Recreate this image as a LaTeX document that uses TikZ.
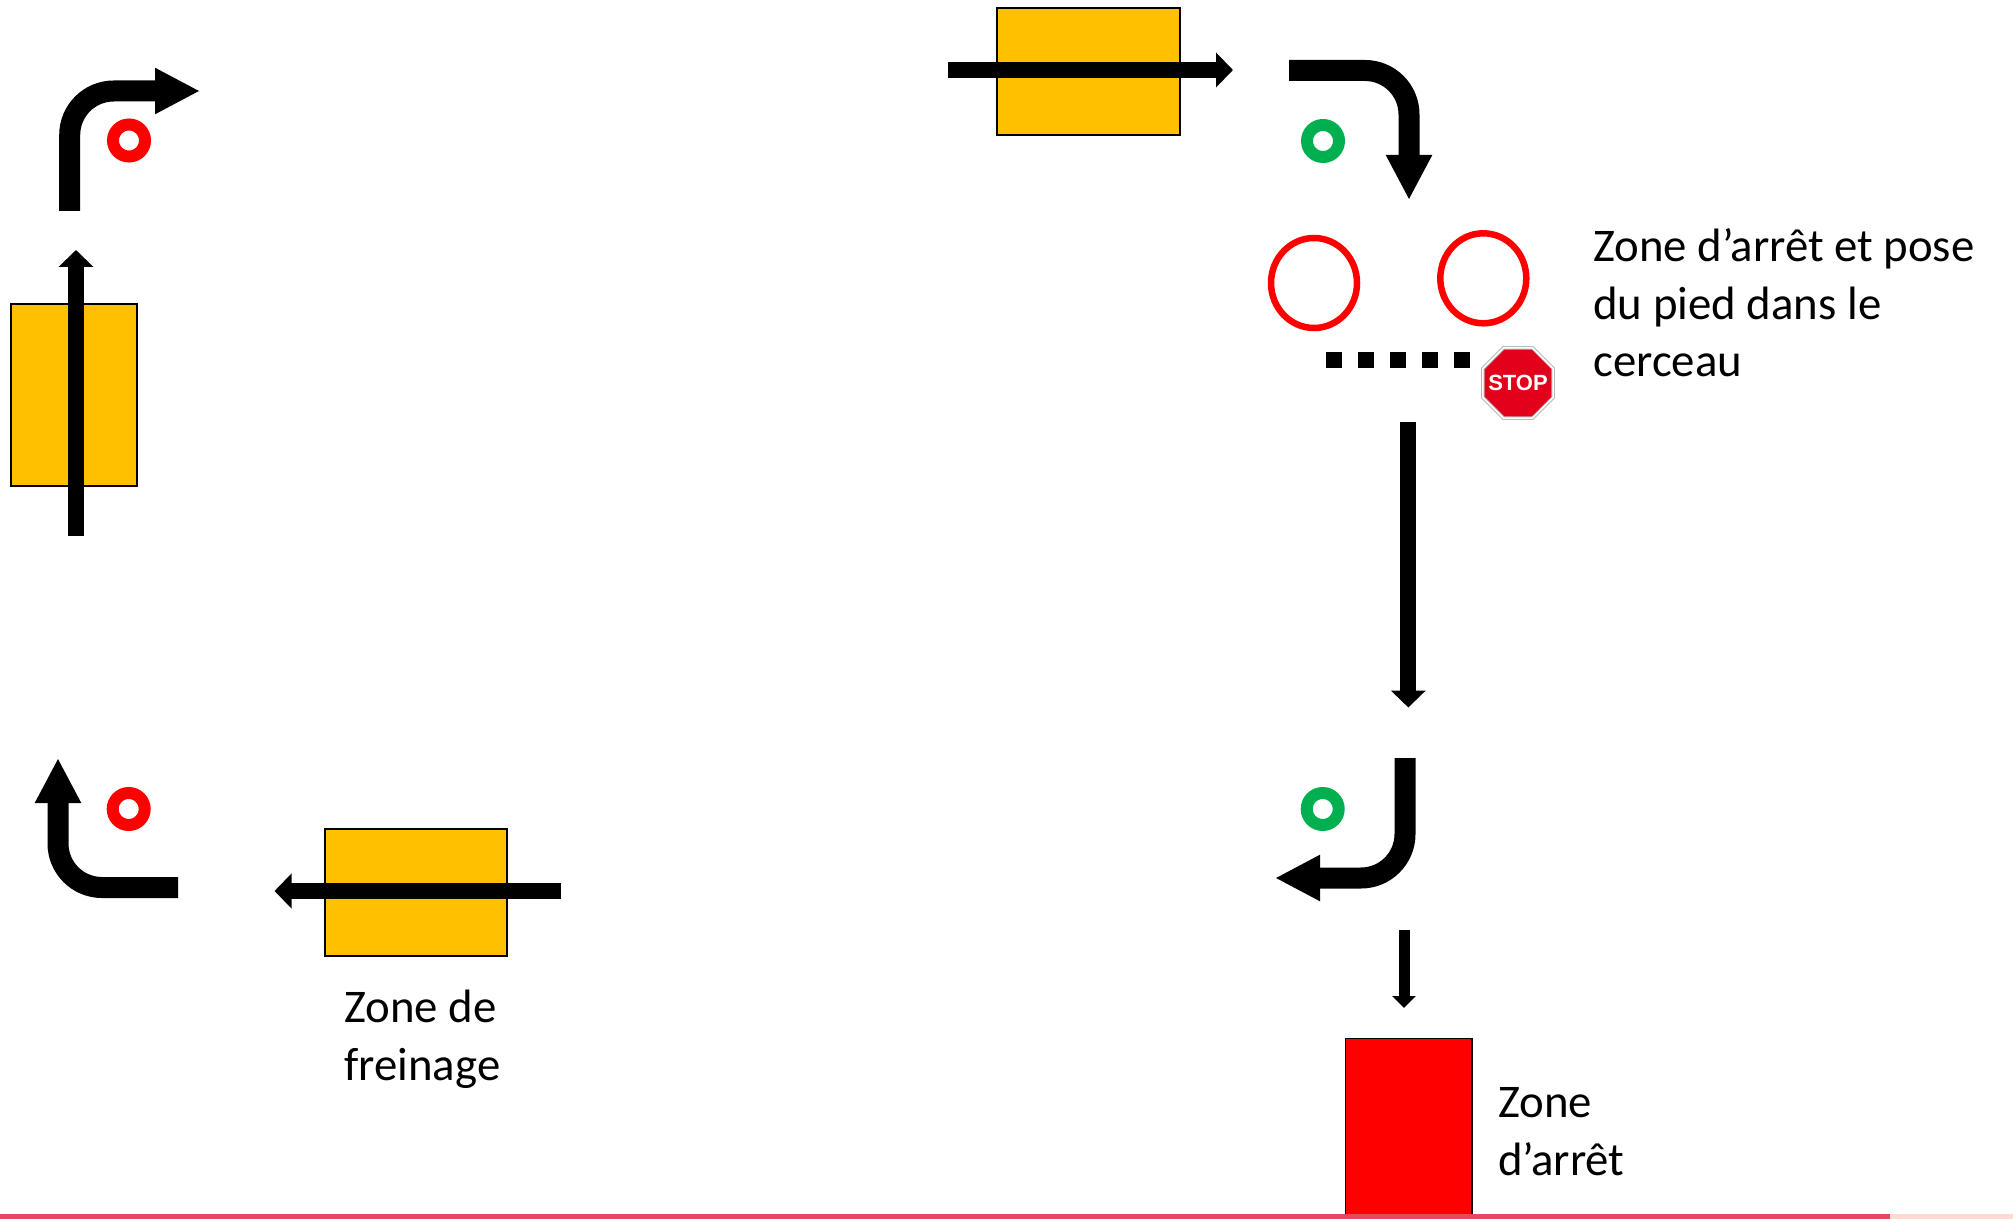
\documentclass[tikz,border=0pt]{standalone}
\usepackage{fontspec}
\setmainfont{Carlito}
\newfontfamily\stopfont{Liberation Sans}
\usetikzlibrary{arrows.meta,shapes.geometric}
\definecolor{zoneyellow}{HTML}{FFC000}
\definecolor{ringred}{HTML}{FF0000}
\definecolor{ringgreen}{HTML}{00B050}
\definecolor{stopred}{HTML}{E2001A}
\definecolor{linered}{HTML}{E8485F}
\definecolor{linepink}{HTML}{FDDAD3}
\tikzset{
  zonebox/.style={draw=black, fill=zoneyellow, line width=1pt},
  stopzone/.style={draw=black, fill=ringred, line width=0.8pt},
  turnarrow/.style={line width=10.5pt, rounded corners=22pt,
    -{Triangle[length=22.5pt,width=21.5pt]}},
  thinarrow/.style={line width=8pt, -{Triangle[length=8.5pt,width=17pt]}},
  smallarrow/.style={line width=5.5pt, -{Triangle[length=6pt,width=11.5pt]}},
  ring/.style={circle, draw=#1, line width=6pt, minimum size=16pt, inner sep=0pt},
  hoop/.style={draw=ringred, line width=3.25pt},
  label/.style={anchor=base west, inner sep=0pt, align=left,
    font=\fontsize{23.4}{28.75}\selectfont},
  stopsign/.style={regular polygon, regular polygon sides=8, minimum size=38pt,
    inner sep=0pt, outer sep=0pt, fill=stopred, draw=gray!55, double=white, double distance=0.7pt,
    line width=0.5pt},
  stoptext/.style={inner sep=0pt, text=white, font=\stopfont\bfseries\fontsize{11}{11}\selectfont}
}
\begin{document}
\begin{tikzpicture}[x=0.5pt,y=-0.5pt]
\useasboundingbox (0,0) rectangle (2013,1219);

% yellow braking zones
\draw[zonebox] (997,8) rectangle (1180,135);
\draw[zonebox] (11,304) rectangle (137,486);
\draw[zonebox] (324.5,829) rectangle (507,956);

% red stop zone
\draw[stopzone] (1345.5,1038.5) rectangle (1472,1225);

% arrows through the yellow zones
\coordinate (topA) at (948,70);   \coordinate (topB) at (1233,70);
\coordinate (leftA) at (76,536);  \coordinate (leftB) at (76,250);
\coordinate (botA) at (560.5,891); \coordinate (botB) at (274.5,891);
\draw[thinarrow] (topA) -- (topB);
\draw[thinarrow] (leftA) -- (leftB);
\draw[thinarrow] (botA) -- (botB);

% turn arrows
\coordinate (tlA) at (69.7,211); \coordinate (tlC) at (69.7,91); \coordinate (tlB) at (200,91);
\draw[turnarrow] (tlA) -- (tlC) -- (tlB);
\coordinate (trA) at (1289,70.5); \coordinate (trC) at (1409,70.5); \coordinate (trB) at (1409,200);
\draw[turnarrow] (trA) -- (trC) -- (trB);
\coordinate (brA) at (1405,758); \coordinate (brC) at (1405,878); \coordinate (brB) at (1275,878);
\draw[turnarrow] (brA) -- (brC) -- (brB);
\coordinate (blA) at (178,887.5); \coordinate (blC) at (58,887.5); \coordinate (blB) at (58,758);
\draw[turnarrow] (blA) -- (blC) -- (blB);

% long and short vertical arrows
\coordinate (longA) at (1408.3,422); \coordinate (longB) at (1408.3,707.5);
\draw[thinarrow] (longA) -- (longB);
\coordinate (shortA) at (1404,930); \coordinate (shortB) at (1404,1008);
\draw[smallarrow] (shortA) -- (shortB);

% small rings (cones)
\node[ring=ringred] (r1) at (129,140.5) {};
\node[ring=ringred] (r2) at (128.7,809) {};
\node[ring=ringgreen] (g1) at (1323,141) {};
\node[ring=ringgreen] (g2) at (1322.7,809) {};

% hoops
\draw[hoop] (1314,283) ellipse [x radius=43, y radius=45];
\draw[hoop] (1483.3,278.3) ellipse [x radius=43, y radius=45];

% stop line
\draw[line width=8pt, dash pattern=on 8pt off 8pt] (1326,360) -- (1470,360);

% stop sign
\node[stopsign] (stop) at (1518,383) {};
\node[stoptext] (stoplabel) at (stop.center) {STOP};

% labels (anchored on the baseline of their last line)
\node[label] (lab1) at (1593,376.7) {Zone d’arrêt et pose\\du pied dans le\\cerceau};
\node[label] (lab2) at (344,1080) {Zone de\\freinage};
\node[label] (lab3) at (1498,1175) {Zone\\d’arrêt};

% bottom border line
\fill[linered] (0,1214) rectangle (1890,1219);
\fill[linepink] (1890,1214) rectangle (2013,1219);
\end{tikzpicture}
\end{document}
